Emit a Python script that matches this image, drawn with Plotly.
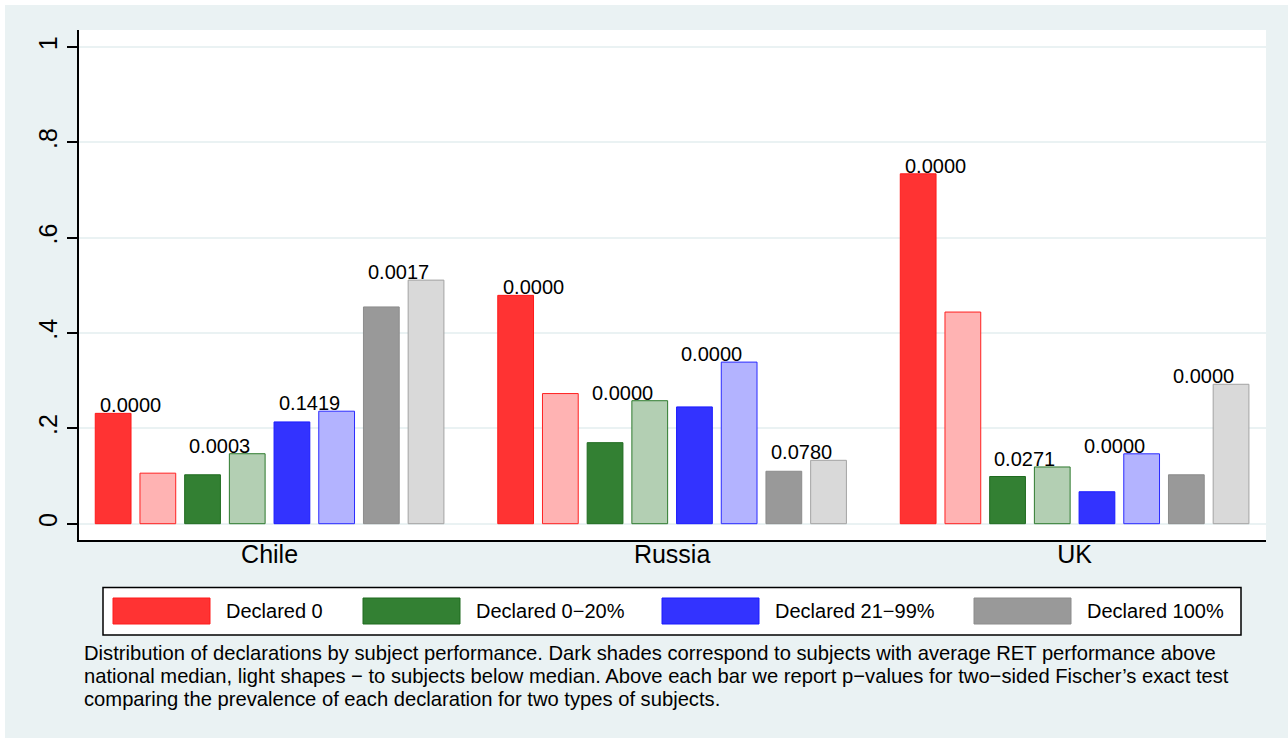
import plotly.graph_objects as go

countries = ["Chile", "Russia", "UK"]

# share of subjects per declaration type; dark = above national median, light = below
above_0 = [0.2315, 0.479, 0.734]
below_0 = [0.106, 0.273, 0.444]
above_0_20 = [0.1026, 0.170, 0.099]
below_0_20 = [0.1468, 0.258, 0.119]
above_21_99 = [0.2135, 0.245, 0.067]
below_21_99 = [0.236, 0.339, 0.1466]
above_100 = [0.4547, 0.110, 0.1026]
below_100 = [0.511, 0.133, 0.2925]

# Fisher exact test p-values, one per declaration type and country
p_0 = ["0.0000", "0.0000", "0.0000"]
p_0_20 = ["0.0003", "0.0000", "0.0271"]
p_21_99 = ["0.1419", "0.0000", "0.0000"]
p_100 = ["0.0017", "0.0780", "0.0000"]

labels = ["Declared 0", "Declared 0\u221220%", "Declared 21\u221299%", "Declared 100%"]
y_ticks = [0, 0.2, 0.4, 0.6, 0.8, 1]
y_ticktext = ["0", ".2", ".4", ".6", ".8", "1"]

caption = [
    "Distribution of declarations by subject performance. Dark shades correspond to subjects with average RET performance above",
    "national median, light shapes \u2212 to subjects below median. Above each bar we report p\u2212values for two\u2212sided Fischer\u2019s exact test",
    "comparing the prevalence of each declaration for two types of subjects.",
]

series = [
    (above_0, below_0, p_0),
    (above_0_20, below_0_20, p_0_20),
    (above_21_99, below_21_99, p_21_99),
    (above_100, below_100, p_100),
]

# styles: (dark fill, dark line, light fill, light line)
styles = [
    ("#FF3333", "#FF1A1A", "#FFB3B3", "#FF2020"),
    ("#338033", "#1F6B1F", "#B3CFB3", "#2E7A2E"),
    ("#3333FF", "#1A1AFF", "#B3B3FF", "#2A2AFF"),
    ("#999999", "#8C8C8C", "#D9D9D9", "#A3A3A3"),
]

FONT = "Liberation Sans, Arial, Helvetica, sans-serif"
BG = "#EAF2F3"
W, H = 1288, 738
ML, MR, MT, MB = 79, 22, 30, 198
PW, PH = W - ML - MR, H - MT - MB

BARGAP = 0.1116
GROUPGAP = 0.2


def px_x(px):
    return (px - ML) / PW


def px_y(py):
    return (H - MB - py) / PH


fig = go.Figure()

for (dark, light, _), (dfill, dline, lfill, lline) in zip(series, styles):
    fig.add_trace(go.Bar(x=countries, y=dark, marker_color=dfill,
                         marker_line=dict(color=dline, width=1),
                         showlegend=False, hoverinfo="y"))
    fig.add_trace(go.Bar(x=countries, y=light, marker_color=lfill,
                         marker_line=dict(color=lline, width=1),
                         showlegend=False, hoverinfo="y"))

annotations = []

# p-values sit over the boundary between the dark and light bar of each pair
slot = (1 - BARGAP) / 8
for k, (dark, light, pv) in enumerate(series):
    for i, country in enumerate(countries):
        annotations.append(dict(
            x=i - (1 - BARGAP) / 2 + (2 * k + 1) * slot, y=max(dark[i], light[i]),
            xref="x", yref="y", text=pv[i], showarrow=False,
            xanchor="center", yanchor="bottom", xshift=-5, yshift=-5,
            font=dict(size=20, color="black", family=FONT)))

# legend (Stata style, big swatches inside a framed box)
shapes = [
    dict(type="rect", xref="paper", yref="paper", x0=px_x(-1), x1=px_x(1290),
         y0=px_y(5), y1=px_y(-1), fillcolor="white", line_width=0, layer="below"),
    dict(type="rect", xref="paper", yref="paper", x0=px_x(-1), x1=px_x(5),
         y0=px_y(740), y1=px_y(-1), fillcolor="white", line_width=0, layer="below"),
    dict(type="rect", xref="paper", yref="paper", x0=px_x(103), x1=px_x(1241),
         y0=px_y(635), y1=px_y(587.5), fillcolor="white",
         line=dict(color="black", width=1.5)),
]
swatch_left = [113, 363, 662, 974]
for lab, x0, (dfill, dline, _, _) in zip(labels, swatch_left, styles):
    shapes.append(dict(type="rect", xref="paper", yref="paper",
                       x0=px_x(x0), x1=px_x(x0 + 97), y0=px_y(624), y1=px_y(598),
                       fillcolor=dfill, line=dict(color=dline, width=1)))
    annotations.append(dict(x=px_x(x0 + 111), y=px_y(611), xref="paper", yref="paper",
                            text=lab, showarrow=False, xanchor="left", yanchor="middle",
                            font=dict(size=20, color="black", family=FONT)))

for line, yc in zip(caption, [652.5, 675.5, 698.5]):
    annotations.append(dict(x=px_x(83), y=px_y(yc), xref="paper", yref="paper",
                            text=line, showarrow=False, xanchor="left", yanchor="middle",
                            borderpad=0,
                            font=dict(size=20.2, color="black", family=FONT)))

fig.update_layout(
    width=W, height=H,
    margin=dict(l=ML, r=MR, t=MT, b=MB, pad=0),
    paper_bgcolor=BG, plot_bgcolor="white",
    barmode="group", bargap=BARGAP, bargroupgap=GROUPGAP,
    font=dict(family=FONT, color="black"),
    showlegend=False,
    xaxis=dict(range=[-0.4735, 2.4755], showline=True, linecolor="black", linewidth=1.5,
               ticks="", showgrid=False, tickfont=dict(size=25), ticklabelstandoff=-9,
               fixedrange=True),
    yaxis=dict(range=[-0.0342, 1.0357], tickvals=y_ticks, ticktext=y_ticktext,
               tickangle=-90, tickfont=dict(size=25), ticks="outside", ticklen=10,
               tickwidth=1.5, tickcolor="black", showline=True, linecolor="black",
               linewidth=1.5, showgrid=True, gridcolor=BG, gridwidth=1.5,
               zeroline=False, fixedrange=True),
    annotations=annotations,
    shapes=shapes,
)

fig.write_html("out.html", config={"displayModeBar": False},
               post_script="document.body.style.margin='0';")
